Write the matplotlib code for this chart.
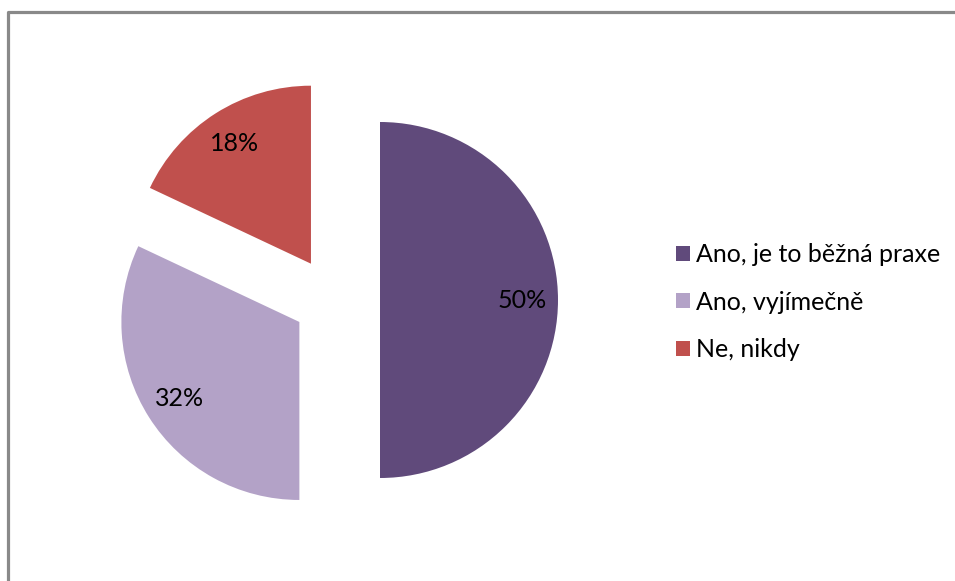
import matplotlib
matplotlib.use("Agg")
import matplotlib.pyplot as plt

labels = ["Ano, je to běžná praxe", "Ano, vyjímečně", "Ne, nikdy"]
shares = [50, 32, 18]
colors = ["#604A7B", "#B3A2C7", "#C0504D"]

plt.rcParams["font.family"] = ["Lato", "DejaVu Sans"]

W, H = 955, 581
fig = plt.figure(figsize=(W / 100, H / 100), dpi=100)
ax = fig.add_axes([0, 0, 1, 1])

# pie laid out in pixel units so the frame and legend line up;
# explode offsets are in the same units as the radius here
wedges, texts, autotexts = ax.pie(
    shares,
    colors=colors,
    startangle=90,
    counterclock=False,
    explode=[46, 41, 43],
    center=(334, H - 300),
    radius=178,
    autopct="%1.0f%%",
    pctdistance=0.8,
    frame=True,
    textprops={"fontsize": 18, "color": "black"},
)

# grey chart-area border (only left and top edges fall inside the image)
ax.plot([7.5, 7.5, W + 5], [-5, H - 12, H - 12], color="#898989", lw=2.3,
        solid_capstyle="butt")

ax.set_xlim(0, W)
ax.set_ylim(0, H)
ax.set_aspect("equal")
ax.axis("off")

ax.legend(
    wedges, labels,
    loc="upper left",
    bbox_to_anchor=(676 / W, 1 - 243 / H),
    frameon=False,
    fontsize=18,
    handlelength=0.55,
    handleheight=0.55,
    handletextpad=0.25,
    labelspacing=0.98,
    borderaxespad=0,
    borderpad=0,
)

fig.savefig("out.png", dpi=100)
